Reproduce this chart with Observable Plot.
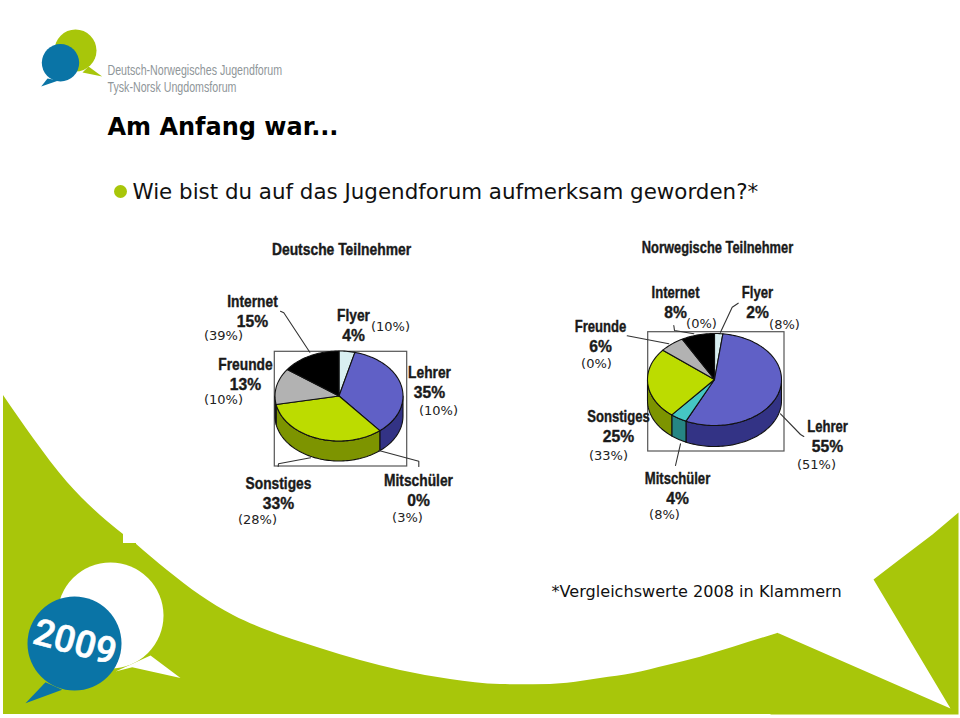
<!DOCTYPE html>
<html lang="de">
<head>
<meta charset="utf-8">
<title>Am Anfang war...</title>
<script src="https://cdn.jsdelivr.net/npm/d3@7"></script>
<script src="https://cdn.jsdelivr.net/npm/@observablehq/plot@0.6"></script>
<style>html,body{margin:0;padding:0;background:#fff}svg{display:block}</style>
</head>
<body>
<script>
// ---- Data ----
const categories = ["Flyer", "Lehrer", "Mitschüler", "Sonstiges", "Freunde", "Internet"];
const deutsche = [4, 35, 0, 33, 13, 15];
const deutsche2008 = [10, 10, 3, 28, 10, 39];
const norwegische = [2, 55, 4, 25, 6, 8];
const norwegische2008 = [8, 51, 8, 33, 0, 0];
const chartTitles = ["Deutsche Teilnehmer", "Norwegische Teilnehmer"];
const slideTitle = "Am Anfang war...";
const question = "Wie bist du auf das Jugendforum aufmerksam geworden?*";
const footnote = "*Vergleichswerte 2008 in Klammern";
const logoLines = ["Deutsch-Norwegisches Jugendforum", "Tysk-Norsk Ungdomsforum"];
const yearBadge = "2009";

// ---- Styles ----
const topColors = ["#d9eff1", "#6060c6", "#45c6c4", "#bcdc00", "#b2b2b2", "#000000"];
const sideColors = ["#a9bcbe", "#333385", "#268684", "#7d9400", "#777777", "#000000"];
const green = "#a8c60a", blue = "#0a74a6", ink = "#111", boldFont = "'Liberation Sans',sans-serif", slideFont = "'DejaVu Sans',sans-serif";
const squeeze = {"sq-name": 0.81, "sq-name-r": 0.77, "sq-value": 0.92, "sq-t0": 0.84, "sq-t1": 0.78, "sq-logo": 0.71};

// ---- Layout (pixel space of the slide) ----
const pieLeft = {cx: 338.5, cy: 395.5, rx: 64, ry: 45, depth: 20};
const pieRight = {cx: 714, cy: 379, rx: 67, ry: 46, depth: 21};
const boxes = [{x1: 274.3, x2: 406.7, y1: 351.3, y2: 466}, {x1: 647.7, x2: 784, y1: 331.7, y2: 451}];
const labelPosLeft = [[353,315,390,326],[429,372,438,410],[418,480,407,517],[278,483,257,519],[245,364,223,399],[252,301,223,335]];
const labelPosRight = [[757,292,784,324],[827,426,816,464],[677,478,664,514],[618,416,608,455],[600,326,596,363],[675,292,701,323]];
const titlePos = [[341,249],[717,247]];
const leaders = [
  [[280,310.7],[283.3,312.3],[309.3,351.7]],
  [[277.7,466],[278,463.3],[310,457.3]],
  [[418.3,466],[418.3,460.7],[378.3,450]],
  [[737.7,302.7],[731.7,306.7],[720,331.7]],
  [[673.3,325],[674,330],[693.3,333.3]],
  [[626.7,335.3],[668.3,343.3]],
  [[675,465],[680,443.3]],
  [[803.3,436],[800,434],[780,413.3]]
];
const slideBottom = 714;
const bandLeft = [[3,395],[33,438],[67,482],[100,515],[123,534]];
const bandNotch = [{x1: 122.5, x2: 136, y1: 543, y2: slideBottom}];
const bandMiddle = [[135,543],[167,570],[200,595],[233,615],[267,630],[320,648],[400,670],[450,679],[500,684],[533,684.3],[567,682.7],[600,678],[633,673],[667,665],[700,656.7],[733,646.7],[778,632.7]];
const bandRight = [[770,635.2],[778,632.7],[950,708],[873,579],[903,556],[932,534],[958,512],[958,714],[770,714]];
const whiteTail = [[150,655],[180,677.5],[131.7,666.7],[115,671]];
const blueTail = [[45,681.7],[25,702.7],[61.7,689.3]];
const logoGreenTail = [[88,66],[101.7,76],[82,72]];
const logoBlueTail = [[47,78],[40.7,86],[58,80]];

// ---- Pie geometry, computed from the values ----
const arcPoints = (p, a0, a1, dy = 0) => {
  const n = Math.max(2, Math.ceil(Math.abs(a1 - a0) / 0.03));
  return d3.range(n + 1).map(i => {
    const a = a0 + (a1 - a0) * i / n;
    return [p.cx + p.rx * Math.sin(a), p.cy - p.ry * Math.cos(a) + dy];
  });
};
const poly = (pts, fill, stroke = "#111", strokeWidth = 1.1) =>
  Plot.line([...pts, pts[0]], {x: d => d[0], y: d => d[1], fill, stroke, strokeWidth, curve: "linear", strokeLinejoin: "round"});
const band = (pts) =>
  Plot.areaY(pts, {x: d => d[0], y1: d => d[1], y2: () => slideBottom, fill: green, curve: "monotone-x"});
const pieMarks = (values, p) => {
  const total = d3.sum(values);
  let acc = 0;
  const slices = values.map((v, i) => {
    const a0 = acc / total * 2 * Math.PI; acc += v;
    return {i, v, a0, a1: acc / total * 2 * Math.PI};
  }).filter(s => s.v > 0);
  const side = slices.flatMap(s => {
    const a = Math.max(s.a0, Math.PI / 2), b = Math.min(s.a1, 3 * Math.PI / 2);
    if (b <= a) return [];
    return [poly([...arcPoints(p, a, b), ...arcPoints(p, b, a, p.depth)], sideColors[s.i])];
  });
  const top = slices.map(s => poly([[p.cx, p.cy], ...arcPoints(p, s.a0, s.a1)], topColors[s.i]));
  return [...side, ...top];
};

// ---- Labels, built from the values ----
const labelMarks = (values, prev, pos, nameClass) => {
  const rows = categories.map((c, i) => ({c, v: values[i] + "%", p: "(" + prev[i] + "%)", pos: pos[i]}));
  const bold = {fontFamily: boldFont, fontWeight: 700, fontSize: 17, fill: "#1a1a1a", stroke: "#1a1a1a", strokeWidth: 0.4, textAnchor: "middle"};
  return [
    Plot.text(rows, {x: d => d.pos[0], y: d => d.pos[1], text: "c", className: nameClass, ...bold}),
    Plot.text(rows, {x: d => d.pos[0], y: d => d.pos[1] + 20.5, text: "v", className: "sq-value", ...bold}),
    Plot.text(rows, {x: d => d.pos[2], y: d => d.pos[3], text: "p", fontFamily: slideFont, fontSize: 13, fill: "#222", textAnchor: "middle"})
  ];
};
const titleStyle = {fontFamily: boldFont, fontWeight: 700, fontSize: 16.5, fill: "#1a1a1a", stroke: "#1a1a1a", strokeWidth: 0.4};

const chart = Plot.plot({
  width: 960, height: 718, margin: 0,
  x: {domain: [0, 960], axis: null},
  y: {domain: [718, 0], axis: null},
  style: {background: "#fff"},
  marks: [
    // Slide decoration
    band(bandLeft),
    Plot.rect(bandNotch, {x1: "x1", x2: "x2", y1: "y1", y2: "y2", fill: green}),
    band(bandMiddle),
    poly(bandRight, green, "none"),
    Plot.dot([[110, 615]], {x: d => d[0], y: d => d[1], r: 53, fill: "#fff"}),
    poly(whiteTail, "#fff", "none"),
    poly(blueTail, blue, "none"),
    Plot.dot([[74, 643]], {x: d => d[0], y: d => d[1], r: 47, fill: blue}),
    Plot.text([yearBadge], {x: () => 74.5, y: () => 642, text: d => d, rotate: 15, fill: "#fff", stroke: "#fff", strokeWidth: 0.6, fontFamily: "Roboto,sans-serif", fontWeight: 500, fontSize: 37}),
    // Logo
    poly(logoGreenTail, green, "none"),
    Plot.dot([[75, 50]], {x: d => d[0], y: d => d[1], r: 21, fill: green}),
    poly(logoBlueTail, blue, "none"),
    Plot.dot([[60, 62.3]], {x: d => d[0], y: d => d[1], r: 18.7, fill: blue}),
    Plot.text(logoLines, {x: () => 107, y: (d, i) => i ? 86.5 : 69.5, text: d => d, textAnchor: "start", className: "sq-logo", fontFamily: boldFont, fontSize: 15, fill: "#8f9699"}),
    // Headings
    Plot.text([slideTitle], {x: () => 107, y: () => 127, text: d => d, textAnchor: "start", fontFamily: slideFont, fontWeight: 700, fontSize: 24, fill: "#000"}),
    Plot.dot([[120, 191]], {x: d => d[0], y: d => d[1], r: 6.5, fill: green}),
    Plot.text([question], {x: () => 132, y: () => 192, text: d => d, textAnchor: "start", fontFamily: slideFont, fontSize: 21.4, fill: ink}),
    Plot.text([footnote], {x: () => 551, y: () => 591.5, text: d => d, textAnchor: "start", fontFamily: slideFont, fontSize: 16.1, fill: ink}),
    // Charts
    Plot.rect(boxes, {x1: "x1", x2: "x2", y1: "y1", y2: "y2", fill: "#fff", stroke: "#555", strokeWidth: 1.2}),
    ...pieMarks(deutsche, pieLeft),
    ...pieMarks(norwegische, pieRight),
    ...leaders.map(l => Plot.line(l, {x: d => d[0], y: d => d[1], stroke: "#333", strokeWidth: 1.1, curve: "linear"})),
    Plot.text([chartTitles[0]], {x: () => titlePos[0][0], y: () => titlePos[0][1], text: d => d, className: "sq-t0", ...titleStyle}),
    Plot.text([chartTitles[1]], {x: () => titlePos[1][0], y: () => titlePos[1][1], text: d => d, className: "sq-t1", ...titleStyle}),
    ...labelMarks(deutsche, deutsche2008, labelPosLeft, "sq-name"),
    ...labelMarks(norwegische, norwegische2008, labelPosRight, "sq-name-r")
  ]
});
document.body.appendChild(chart);

// Horizontally condense the labels to the narrow face of the reference; they stay real text.
for (const [cls, k] of Object.entries(squeeze)) {
  chart.querySelectorAll("." + cls + " text, text." + cls).forEach(t => {
    t.setAttribute("textLength", (t.getComputedTextLength() * k).toFixed(1));
    t.setAttribute("lengthAdjust", "spacingAndGlyphs");
  });
}
</script>
</body>
</html>
